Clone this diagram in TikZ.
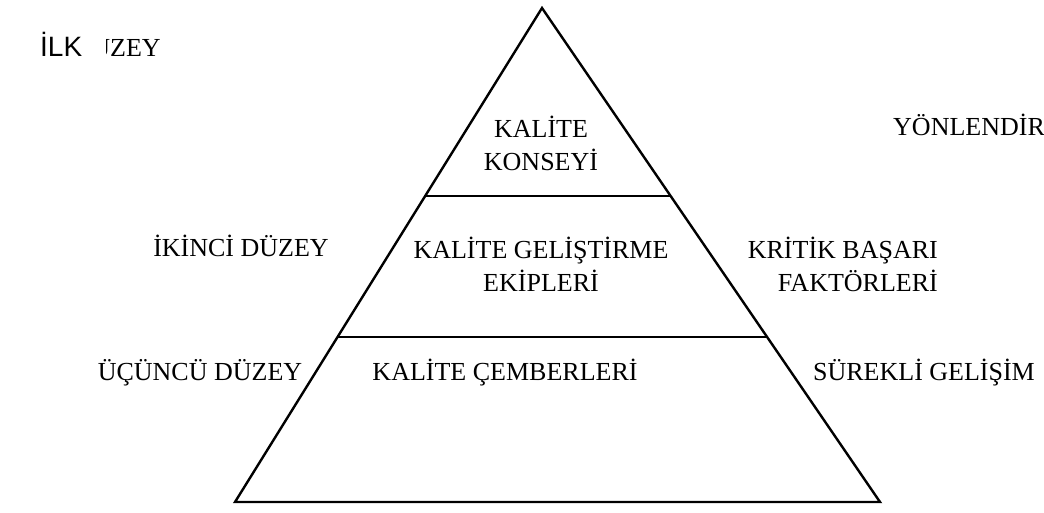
\documentclass[tikz,border=0pt]{standalone}
\usepackage{fontspec}
\setmainfont{Liberation Serif}
\newfontfamily\arialfont{Liberation Sans}
\usetikzlibrary{calc}
\begin{document}
\begin{tikzpicture}[x=1pt,y=-1pt,
  edge/.style={line width=2.4pt,line join=miter},
  divider/.style={line width=2pt},
  lbl/.style={font=\fontsize{26}{33}\selectfont,inner sep=0pt},
  mlbl/.style={lbl,align=center}]
\useasboundingbox (0,0) rectangle (1044,512);
\coordinate (apex) at (542,8);
\coordinate (bl) at (235,502);
\coordinate (br) at (880,502);
\draw[edge] (apex) -- (bl) -- (br) -- cycle;
\coordinate (t1l) at ($(apex)!0.3806!(bl)$);
\coordinate (t1r) at ($(apex)!0.3806!(br)$);
\coordinate (t2l) at ($(apex)!0.666!(bl)$);
\coordinate (t2r) at ($(apex)!0.666!(br)$);
\draw[divider] (t1l) -- (t1r);
\draw[divider] (t2l) -- (t2r);
% left labels
\node[inner sep=0pt,anchor=base west,font=\arialfont\fontsize{28}{30}\selectfont] (ilk) at (40,56) {İLK};
\begin{scope}
\clip (106.5,20) rectangle (260,80);
\node[lbl,anchor=base west] (duzey1) at (110,56) {\llap{DÜ}ZEY};
\end{scope}
\node[lbl,anchor=base] (ikinci) at (241,256) {İKİNCİ DÜZEY};
\node[lbl,anchor=base] (ucuncu) at (200,380) {ÜÇÜNCÜ DÜZEY};
% inside labels
\node[mlbl] (konsey) at (541,143) {KALİTE\\KONSEYİ};
\node[mlbl] (ekip) at (541,264) {KALİTE GELİŞTİRME\\EKİPLERİ};
\node[lbl,anchor=base] (cember) at (505,380) {KALİTE ÇEMBERLERİ};
% right labels
\node[lbl,anchor=base west] (yon) at (893,135) {YÖNLENDİR};
\node[lbl,align=right,anchor=east] (kritik) at (938,264) {KRİTİK BAŞARI\\FAKTÖRLERİ};
\node[lbl,anchor=base] (surekli) at (924,380) {SÜREKLİ GELİŞİM};
\end{tikzpicture}
\end{document}
